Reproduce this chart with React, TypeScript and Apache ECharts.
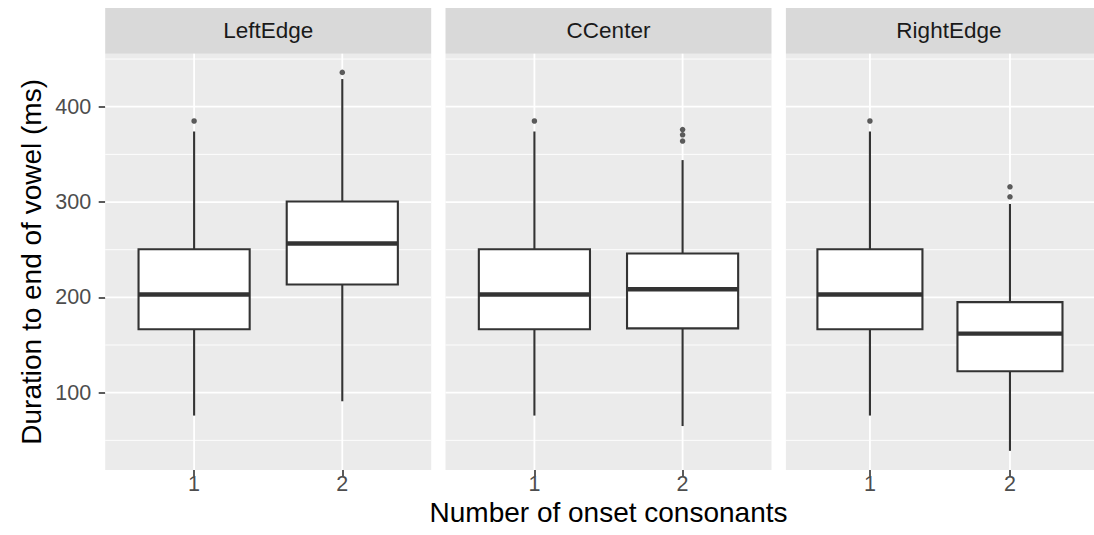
import React, { useEffect, useRef } from "react";
import * as echarts from "echarts";

const facets = ["LeftEdge", "CCenter", "RightEdge"];
const categories = ["1", "2"];
const xTicks = [1, 2];
const yMajorTicks = [100, 200, 300, 400];
const yMinorTicks = [50, 150, 250, 350, 450];

// [lower whisker, Q1, median, Q3, upper whisker] per category
const leftEdgeStats = [
  [76, 166.5, 203, 250.5, 374],
  [91, 213.5, 256.5, 300.5, 429],
];
const cCenterStats = [
  [76, 166.5, 203, 250.5, 374],
  [65, 167.5, 208.5, 246, 344],
];
const rightEdgeStats = [
  [76, 166.5, 203, 250.5, 374],
  [39, 122.5, 162, 195, 298],
];

// [category, value]
const leftEdgeOutliers = [
  [1, 385],
  [2, 436],
];
const cCenterOutliers = [
  [1, 385],
  [2, 364],
  [2, 370.5],
  [2, 376],
];
const rightEdgeOutliers = [
  [1, 385],
  [2, 305.5],
  [2, 316],
];

const statsByFacet = [leftEdgeStats, cCenterStats, rightEdgeStats];
const outliersByFacet = [leftEdgeOutliers, cCenterOutliers, rightEdgeOutliers];

const Y_MIN = 18.9;
const Y_MAX = 455.6;
const X_MIN = 0.4;
const X_MAX = 2.6;

const FONT = "'Liberation Sans', Arial, Helvetica, sans-serif";
const PANEL_LEFTS = [105.2, 445.5, 785.9];
const PANEL_W = 326;
const PANEL_TOP = 53.7;
const PANEL_BOTTOM = 470;
const STRIP_TOP = 8;
const TICK_FONT = 21.5;

export default function App() {
  const ref = useRef<HTMLDivElement>(null);

  useEffect(() => {
    if (!ref.current) return;
    const chart = echarts.init(ref.current, null, { renderer: "svg" });

    const grids = PANEL_LEFTS.map((l) => ({
      left: l,
      top: PANEL_TOP,
      width: PANEL_W,
      height: PANEL_BOTTOM - PANEL_TOP,
      show: true,
      backgroundColor: "#EBEBEB",
      borderWidth: 0,
      containLabel: false,
    }));

    const rich = {
      t: { fontSize: TICK_FONT, fontFamily: FONT, color: "#4D4D4D" },
    };

    const xAxes = facets.map((_, i) => ({
      type: "value",
      gridIndex: i,
      min: X_MIN,
      max: X_MAX,
      axisLine: { show: false },
      splitLine: { show: false },
      axisTick: {
        show: true,
        customValues: xTicks,
        length: 6.5,
        lineStyle: { color: "#333333", width: 1.6 },
      },
      axisLabel: {
        show: true,
        customValues: xTicks,
        formatter: (v: number) => `{t|${categories[Math.round(v) - 1] ?? ""}}`,
        margin: 3,
        fontSize: TICK_FONT,
        fontFamily: FONT,
        color: "#4D4D4D",
        rich,
      },
      ...(i === 1
        ? {
            name: "Number of onset consonants",
            nameLocation: "middle",
            nameGap: 28,
            nameMoveOverlap: false,
            nameTextStyle: { color: "#000000", fontSize: 28, fontFamily: FONT },
          }
        : {}),
    }));

    const yAxes = facets.map((_, i) => ({
      type: "value",
      gridIndex: i,
      min: Y_MIN,
      max: Y_MAX,
      axisLine: { show: false },
      splitLine: { show: false },
      axisTick: {
        show: i === 0,
        customValues: yMajorTicks,
        length: 6.5,
        lineStyle: { color: "#333333", width: 1.6 },
      },
      axisLabel: {
        show: i === 0,
        customValues: yMajorTicks,
        formatter: (v: number) => `{t|${v}}`,
        margin: 14,
        fontSize: TICK_FONT,
        fontFamily: FONT,
        color: "#4D4D4D",
        rich,
      },
      ...(i === 0
        ? {
            name: "Duration to end of vowel (ms)",
            nameLocation: "middle",
            nameGap: 60,
            nameRotate: 90,
            nameMoveOverlap: false,
            nameTextStyle: { color: "#000000", fontSize: 28, fontFamily: FONT },
          }
        : {}),
    }));

    const series: any[] = [];
    facets.forEach((_, i) => {
      // minor horizontal grid lines
      series.push({
        type: "custom",
        xAxisIndex: i,
        yAxisIndex: i,
        z: 1,
        silent: true,
        data: yMinorTicks.map((v) => [xTicks[0], v]),
        renderItem: (params: any, api: any) => {
          const cs = params.coordSys;
          const y = api.coord([api.value(0), api.value(1)])[1];
          return {
            type: "line",
            shape: { x1: cs.x, y1: y, x2: cs.x + cs.width, y2: y },
            style: { stroke: "#FFFFFF", lineWidth: 0.9 },
          };
        },
      });
      // major horizontal grid lines
      series.push({
        type: "custom",
        xAxisIndex: i,
        yAxisIndex: i,
        z: 1,
        silent: true,
        data: yMajorTicks.map((v) => [xTicks[0], v]),
        renderItem: (params: any, api: any) => {
          const cs = params.coordSys;
          const y = api.coord([api.value(0), api.value(1)])[1];
          return {
            type: "line",
            shape: { x1: cs.x, y1: y, x2: cs.x + cs.width, y2: y },
            style: { stroke: "#FFFFFF", lineWidth: 1.8 },
          };
        },
      });
      // major vertical grid lines
      series.push({
        type: "custom",
        xAxisIndex: i,
        yAxisIndex: i,
        z: 1,
        silent: true,
        data: xTicks.map((v) => [v, yMajorTicks[0]]),
        renderItem: (params: any, api: any) => {
          const cs = params.coordSys;
          const x = api.coord([api.value(0), api.value(1)])[0];
          return {
            type: "line",
            shape: { x1: x, y1: cs.y, x2: x, y2: cs.y + cs.height },
            style: { stroke: "#FFFFFF", lineWidth: 1.8 },
          };
        },
      });
      // boxes
      series.push({
        type: "custom",
        xAxisIndex: i,
        yAxisIndex: i,
        z: 2,
        data: statsByFacet[i].map((s, k) => [xTicks[k], ...s]),
        encode: { x: 0, y: [1, 2, 3, 4, 5] },
        renderItem: (params: any, api: any) => {
          const x = api.value(0);
          const half = 0.375;
          const xl = api.coord([x - half, api.value(4)])[0];
          const xr = api.coord([x + half, api.value(4)])[0];
          const xc = api.coord([x, api.value(4)])[0];
          const ylo = api.coord([x, api.value(1)])[1];
          const yq1 = api.coord([x, api.value(2)])[1];
          const ymed = api.coord([x, api.value(3)])[1];
          const yq3 = api.coord([x, api.value(4)])[1];
          const yhi = api.coord([x, api.value(5)])[1];
          const stroke = "#333333";
          return {
            type: "group",
            children: [
              { type: "line", shape: { x1: xc, y1: yhi, x2: xc, y2: yq3 }, style: { stroke, lineWidth: 2.1 } },
              { type: "line", shape: { x1: xc, y1: yq1, x2: xc, y2: ylo }, style: { stroke, lineWidth: 2.1 } },
              {
                type: "rect",
                shape: { x: xl, y: yq3, width: xr - xl, height: yq1 - yq3 },
                style: { fill: "#FFFFFF", stroke, lineWidth: 2.1 },
              },
              { type: "line", shape: { x1: xl, y1: ymed, x2: xr, y2: ymed }, style: { stroke, lineWidth: 4.4 } },
            ],
          };
        },
      });
      // outliers
      series.push({
        type: "scatter",
        xAxisIndex: i,
        yAxisIndex: i,
        z: 3,
        symbol: "circle",
        symbolSize: 5.5,
        itemStyle: { color: "#333333" },
        data: outliersByFacet[i],
      });
    });

    const graphics: any[] = [];
    facets.forEach((f, i) => {
      graphics.push({
        type: "rect",
        left: PANEL_LEFTS[i],
        top: STRIP_TOP,
        shape: { width: PANEL_W, height: PANEL_TOP - STRIP_TOP },
        style: { fill: "#D9D9D9" },
        silent: true,
      });
      graphics.push({
        type: "text",
        x: PANEL_LEFTS[i] + PANEL_W / 2,
        y: (STRIP_TOP + PANEL_TOP) / 2,
        style: {
          text: f,
          fill: "#1A1A1A",
          fontSize: 22.5,
          fontFamily: FONT,
          align: "center",
          verticalAlign: "middle",
        },
        silent: true,
      });
    });

    chart.setOption({
      animation: false,
      backgroundColor: "#FFFFFF",
      textStyle: { fontFamily: FONT, fontSize: TICK_FONT },
      grid: grids,
      xAxis: xAxes,
      yAxis: yAxes,
      series,
      graphic: graphics,
    });

    return () => chart.dispose();
  }, []);

  return (
    <div
      ref={ref}
      style={{ position: "absolute", left: 0, top: 0, width: 1094, height: 535 }}
    />
  );
}
